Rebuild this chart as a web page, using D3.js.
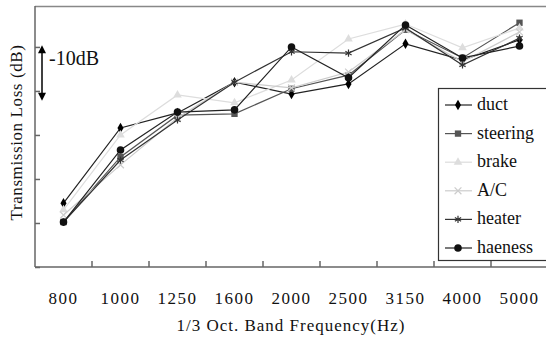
<!DOCTYPE html>
<html>
<head>
<meta charset="utf-8">
<script src="https://cdn.jsdelivr.net/npm/d3@7"></script>
<style>
  body { margin: 0; background: #fff; }
  svg text { font-family: 'Liberation Serif', 'Times New Roman', Times, serif; fill: #111; }
</style>
</head>
<body>
<svg id="chart" width="546" height="338" font-family="Liberation Serif, serif"></svg>
<script>
const bands = ['800', '1000', '1250', '1600', '2000', '2500', '3150', '4000', '5000'];
const yTicks = [0, 10, 20, 30, 40, 50];

// relative transmission loss (dB)
const duct     = [14.5, 31.6, 35.0, 42.0, 39.3, 41.6, 50.7, 47.0, 51.6];
const steering = [10.2, 25.0, 34.5, 34.8, 40.5, 43.6, 53.9, 47.5, 55.5];
const brake    = [13.0, 30.0, 39.1, 37.3, 42.5, 51.8, 55.2, 49.8, 54.3];
const ac       = [11.8, 23.2, 33.9, 42.0, 40.7, 44.3, 53.9, 46.6, 53.4];
const heater   = [10.2, 24.3, 33.4, 42.0, 48.9, 48.6, 54.3, 45.9, 52.0];
const haeness  = [10.2, 26.6, 35.2, 35.7, 50.0, 43.0, 55.0, 47.5, 50.2];

const seriesNames = ['duct', 'steering', 'brake', 'A/C', 'heater', 'haeness'];
const seriesData = [duct, steering, brake, ac, heater, haeness];

const styles = {
  'duct':     { line: '#222', fill: '#000', symbol: d3.symbolDiamond, size: 32 },
  'steering': { line: '#555', fill: '#555', symbol: d3.symbolSquare, size: 40 },
  'brake':    { line: '#ddd', fill: '#ddd', symbol: d3.symbolTriangle, size: 32 },
  'A/C':      { line: '#ccc', fill: 'none', symbol: d3.symbolX, size: 32 },
  'heater':   { line: '#333', fill: 'none', symbol: d3.symbolAsterisk, size: 36 },
  'haeness':  { line: '#222', fill: '#111', symbol: d3.symbolCircle, size: 45 }
};

const svg = d3.select('#chart');
const plotL = 35, plotR = 548, plotT = 6, plotB = 267;

const x = d3.scaleBand().domain(bands).range([plotL, plotR]);
const y = d3.scaleLinear().domain([0, 59.3]).range([plotB, plotT]);

// frame: top border
svg.append('line')
  .attr('x1', plotL).attr('x2', 546)
  .attr('y1', plotT + 0.5).attr('y2', plotT + 0.5)
  .attr('stroke', '#888').attr('stroke-width', 1.5);

// y axis (no labels)
const yAxis = svg.append('g')
  .attr('transform', `translate(${plotL},0)`)
  .call(d3.axisRight(y).tickValues(yTicks).tickFormat('').tickSize(5));
yAxis.select('.domain').attr('d', `M0,${plotT}V${plotB}`);
yAxis.selectAll('line, path').attr('stroke', '#666').attr('stroke-width', 1.5);

// x axis, ticks between categories
const xAxis = svg.append('g')
  .attr('transform', `translate(0,${plotB})`);
xAxis.append('line')
  .attr('x1', plotL).attr('x2', 546)
  .attr('stroke', '#666').attr('stroke-width', 1.5);
xAxis.selectAll('.tk')
  .data(bands.slice(1))
  .enter().append('line')
  .attr('x1', d => x(d)).attr('x2', d => x(d))
  .attr('y1', 0).attr('y2', -6)
  .attr('stroke', '#666').attr('stroke-width', 1.5);
xAxis.selectAll('.lbl')
  .data(bands)
  .enter().append('text')
  .attr('x', d => x(d) + x.bandwidth() / 2)
  .attr('y', 37)
  .attr('text-anchor', 'middle')
  .attr('font-size', 17)
  .attr('letter-spacing', 1.5)
  .text(d => d);

svg.append('text')
  .attr('x', 291).attr('y', 331)
  .attr('text-anchor', 'middle')
  .attr('font-size', 17)
  .attr('letter-spacing', 1)
  .text('1/3 Oct. Band Frequency(Hz)');

svg.append('text')
  .attr('transform', `translate(22,${(plotT + plotB) / 2 - 4}) rotate(-90)`)
  .attr('text-anchor', 'middle')
  .attr('font-size', 17)
  .attr('letter-spacing', 0.6)
  .text('Transmission Loss (dB)');

// 10dB scale arrow
const arrowX = 42;
const a1 = y(50.4), a2 = y(37.8);
svg.append('line')
  .attr('x1', arrowX).attr('x2', arrowX)
  .attr('y1', a1 + 6).attr('y2', a2 - 6)
  .attr('stroke', '#000').attr('stroke-width', 1.5);
svg.append('path')
  .attr('d', `M${arrowX},${a1}l-4,8h8z M${arrowX},${a2}l-4,-8h8z`)
  .attr('fill', '#000');
svg.append('text')
  .attr('x', 49).attr('y', 65)
  .attr('font-size', 20)
  .text('-10dB');

// lines and markers
const line = d3.line()
  .x((d, i) => x(bands[i]) + x.bandwidth() / 2)
  .y(d => y(d));

seriesNames.forEach((name, k) => {
  const st = styles[name];
  const vals = seriesData[k];
  const g = svg.append('g');
  g.append('path')
    .datum(vals)
    .attr('d', line)
    .attr('fill', 'none')
    .attr('stroke', st.line)
    .attr('stroke-width', 1.2);
  g.selectAll('path.m')
    .data(vals)
    .enter().append('path')
    .attr('class', 'm')
    .attr('transform', (d, i) => `translate(${x(bands[i]) + x.bandwidth() / 2},${y(d)})`)
    .attr('d', d3.symbol().type(st.symbol).size(st.size))
    .attr('fill', st.fill)
    .attr('stroke', st.fill === 'none' ? st.line : 'none')
    .attr('stroke-width', 1.2);
});

// legend
const lg = svg.append('g');
lg.append('rect')
  .attr('x', 438.5).attr('y', 88.5)
  .attr('width', 120).attr('height', 172)
  .attr('fill', '#fff')
  .attr('stroke', '#333').attr('stroke-width', 1.2);

const ly = d3.scalePoint().domain(seriesNames).range([105, 248]);
seriesNames.forEach(name => {
  const st = styles[name];
  const yy = ly(name);
  lg.append('line')
    .attr('x1', 445).attr('x2', 472)
    .attr('y1', yy).attr('y2', yy)
    .attr('stroke', st.line).attr('stroke-width', 1.2);
  lg.append('path')
    .attr('transform', `translate(458,${yy})`)
    .attr('d', d3.symbol().type(st.symbol).size(st.size))
    .attr('fill', st.fill)
    .attr('stroke', st.fill === 'none' ? st.line : 'none')
    .attr('stroke-width', 1.2);
  lg.append('text')
    .attr('x', 477).attr('y', yy + 5)
    .attr('font-size', 18)
    .text(name);
});
</script>
</body>
</html>
